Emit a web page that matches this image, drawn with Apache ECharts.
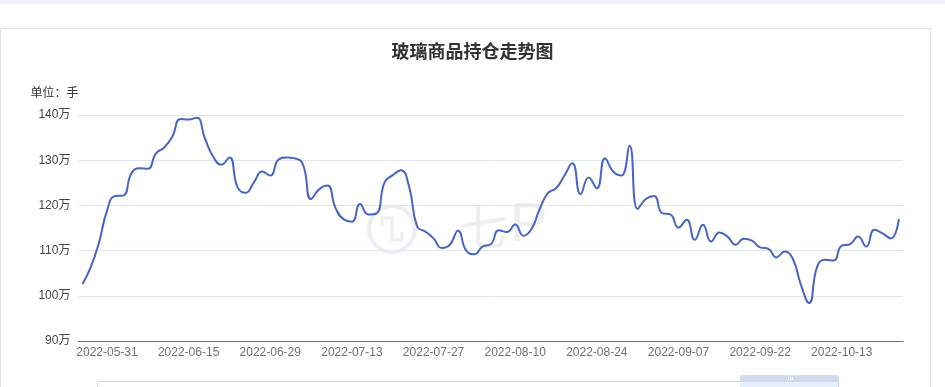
<!DOCTYPE html>
<html><head><meta charset="utf-8">
<script src="https://cdn.jsdelivr.net/npm/echarts@6/dist/echarts.min.js"></script>
<style>
html,body{margin:0;padding:0;background:#fff;width:945px;height:387px;overflow:hidden;}
#topbar{position:absolute;left:0;top:0;width:945px;height:4px;background:#f0f2f7;}
#card{position:absolute;left:0;top:28px;width:931px;height:400px;border:1px solid #e3e3e3;box-sizing:border-box;}
#chart{position:absolute;left:0;top:0;width:945px;height:387px;}
</style></head>
<body><div id="topbar"></div><div id="card"></div><div id="chart"></div>
<script>
// trading dates shown in the window
const dates = [
'2022-05-26','2022-05-27','2022-05-30','2022-05-31','2022-06-01','2022-06-02','2022-06-06','2022-06-07','2022-06-08','2022-06-09',
'2022-06-10','2022-06-13','2022-06-14','2022-06-15','2022-06-16','2022-06-17','2022-06-20','2022-06-21','2022-06-22','2022-06-23',
'2022-06-24','2022-06-27','2022-06-28','2022-06-29','2022-06-30','2022-07-01','2022-07-04','2022-07-05','2022-07-06','2022-07-07',
'2022-07-08','2022-07-11','2022-07-12','2022-07-13','2022-07-14','2022-07-15','2022-07-18','2022-07-19','2022-07-20','2022-07-21',
'2022-07-22','2022-07-25','2022-07-26','2022-07-27','2022-07-28','2022-07-29','2022-08-01','2022-08-02','2022-08-03','2022-08-04',
'2022-08-05','2022-08-08','2022-08-09','2022-08-10','2022-08-11','2022-08-12','2022-08-15','2022-08-16','2022-08-17','2022-08-18',
'2022-08-19','2022-08-22','2022-08-23','2022-08-24','2022-08-25','2022-08-26','2022-08-29','2022-08-30','2022-08-31','2022-09-01',
'2022-09-02','2022-09-05','2022-09-06','2022-09-07','2022-09-08','2022-09-09','2022-09-13','2022-09-14','2022-09-15','2022-09-16',
'2022-09-19','2022-09-20','2022-09-21','2022-09-22','2022-09-23','2022-09-26','2022-09-27','2022-09-28','2022-09-29','2022-09-30',
'2022-10-10','2022-10-11','2022-10-12','2022-10-13','2022-10-14','2022-10-17','2022-10-18','2022-10-19','2022-10-20','2022-10-21',
'2022-10-24'
];
// open interest (手)
const holdings = [
1026000,1063000,1116000,1188000,1221000,1222000,1271000,1282000,1281000,1315000,
1328000,1352000,1391000,1390000,1394000,1348000,1308000,1290000,1306000,1240000,
1228000,1251000,1275000,1266000,1301000,1306000,1304000,1291000,1214000,1236000,
1244000,1194000,1169000,1164000,1203000,1180000,1182000,1251000,1267000,1278000,
1242000,1153000,1142000,1127000,1106000,1113000,1144000,1100000,1092000,1109000,
1114000,1145000,1141000,1158000,1133000,1148000,1192000,1227000,1238000,1265000,
1293000,1225000,1262000,1238000,1304000,1275000,1266000,1332000,1192000,1214000,
1221000,1183000,1180000,1151000,1168000,1124000,1157000,1120000,1140000,1131000,
1113000,1126000,1122000,1107000,1104000,1085000,1098000,1082000,1024000,984000,
1065000,1080000,1078000,1111000,1114000,1131000,1109000,1146000,1138000,1127000,
1170000
];
const yMin = 900000, yMax = 1400000, yStep = 100000;
const titleText = '玻璃商品持仓走势图';
const unitText = '单位：手';

const FONT = "'Liberation Sans', 'Noto Sans CJK SC', sans-serif";
const WM = '#eeeeee';
const chart = echarts.init(document.getElementById('chart'), null, {renderer:'canvas'});
chart.setOption({
  animation: false,
  textStyle: { fontFamily: FONT },
  title: {
    text: titleText, left: 'center', top: 39,
    textStyle: { fontSize: 18, fontWeight: 'bold', color: '#333', fontFamily: FONT }
  },
  grid: { left: 78.4, right: 42, top: 115, bottom: 46, containLabel: false },
  xAxis: {
    type: 'category', data: dates, boundaryGap: true,
    axisLine: { lineStyle: { color: '#6E7079' } },
    axisTick: { length: 5, lineStyle: { color: '#6E7079' } },
    axisLabel: { interval: (i) => i % 10 === 3, color: '#6E7079', fontSize: 12, margin: 6, fontFamily: FONT }
  },
  yAxis: {
    type: 'value', min: yMin, max: yMax, interval: yStep,
    name: unitText, nameLocation: 'end', nameGap: 15,
    nameTextStyle: { color: '#333', fontSize: 12, align: 'right', fontFamily: FONT },
    axisLine: { show: false }, axisTick: { show: false },
    axisLabel: { color: '#444', fontSize: 12, margin: 8, formatter: (v) => (v / 10000) + '万', fontFamily: FONT },
    splitLine: { lineStyle: { color: '#E0E6F1' } }
  },
  series: [{
    type: 'line', data: holdings, smooth: true, showSymbol: false, symbol: 'none',
    lineStyle: { width: 2, color: '#4a64c2' }, itemStyle: { color: '#4a64c2' }, z: 3
  }],
  graphic: [
    { type: 'circle', shape: { cx: 392, cy: 229, r: 23 }, style: { fill: 'none', stroke: WM, lineWidth: 4 }, z: 0, silent: true },
    { type: 'polyline', shape: { points: [[382,226],[382,218],[392,218],[392,240],[402,240],[402,232]] }, style: { fill: 'none', stroke: WM, lineWidth: 3 }, z: 0, silent: true },
    { type: 'text', x: 460, y: 203, style: { text: '七', font: "48px 'Noto Sans CJK SC'", fill: WM }, z: 0, silent: true },
    { type: 'text', x: 510, y: 198, style: { text: 'P', font: "56px 'Liberation Sans'", fill: WM }, z: 0, silent: true },
    { type: 'rect', shape: { x: 97.5, y: 381.5, width: 741, height: 40 }, style: { fill: '#fff', stroke: '#d2dbee', lineWidth: 1 }, silent: true },
    { type: 'rect', shape: { x: 740, y: 382, width: 99, height: 40 }, style: { fill: 'rgba(135,175,274,0.2)' }, silent: true },
    { type: 'rect', shape: { x: 740, y: 375, width: 99, height: 7, r: [3,3,0,0] }, style: { fill: '#d2dbee' }, silent: true },
    { type: 'rect', shape: { x: 788, y: 377, width: 1, height: 3 }, style: { fill: '#fff' }, silent: true },
    { type: 'rect', shape: { x: 790, y: 377, width: 1, height: 3 }, style: { fill: '#fff' }, silent: true },
    { type: 'rect', shape: { x: 792, y: 377, width: 1, height: 3 }, style: { fill: '#fff' }, silent: true }
  ]
});
</script>
</body></html>
